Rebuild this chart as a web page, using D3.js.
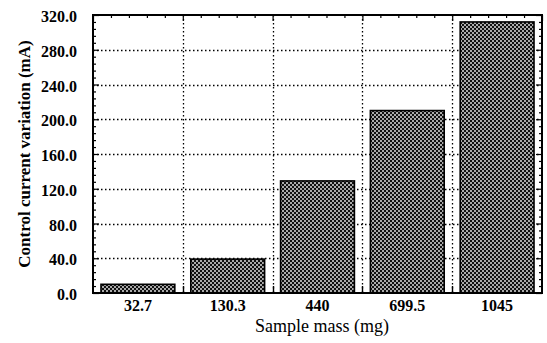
<!DOCTYPE html>
<html>
<head>
<meta charset="utf-8">
<script src="https://cdn.jsdelivr.net/npm/d3@7"></script>
<style>
  html, body { margin: 0; padding: 0; background: #fff; }
  svg { display: block; }
</style>
</head>
<body>
<svg id="chart" width="547" height="343"></svg>
<script>
// Sample masses (mg) and the resulting control current variation (mA)
const categories = ["32.7", "130.3", "440", "699.5", "1045"];
const currentVariation = [10, 39, 129, 210, 312];
const yMajorTicks = [0, 40, 80, 120, 160, 200, 240, 280, 320];
const yMinorTicks = d3.range(0, 321, 8).filter(v => v % 40 !== 0);

const W = 547, H = 343;
const margin = { top: 15, right: 5, bottom: 50, left: 93 };
const x0 = margin.left, x1 = W - margin.right;
const y0 = H - margin.bottom, y1 = margin.top;

const svg = d3.select("#chart");
const serif = "'Liberation Serif', 'Times New Roman', serif";

const x = d3.scaleBand()
  .domain(categories)
  .range([x0, x1])
  .paddingInner(0.178)
  .paddingOuter(0.089);

const y = d3.scaleLinear().domain([0, 320]).range([y0, y1]);

// cross-hatch fill for the bars: dark ground with small light diamonds
const defs = svg.append("defs");
const pat = defs.append("pattern")
  .attr("id", "crosshatch")
  .attr("patternUnits", "userSpaceOnUse")
  .attr("width", 4).attr("height", 4);
pat.append("rect").attr("width", 4).attr("height", 4).attr("fill", "#111");
pat.selectAll("rect.hole")
  .data([[0.2, 0.2], [2.2, 2.2]])
  .join("rect").attr("class", "hole")
  .attr("x", d => d[0]).attr("y", d => d[1])
  .attr("width", 1.6).attr("height", 1.6)
  .attr("fill", "#fff");

// dotted grid, snapped to the pixel grid so the dots stay dark
const crisp = v => Math.round(v) + 0.5;
const step = x.step();
const bounds = d3.range(1, categories.length).map(i => x0 + i * step);
const grid = svg.append("g")
  .attr("stroke", "#000").attr("stroke-width", 1.3)
  .attr("stroke-dasharray", "1.5,2.5");
grid.selectAll("line.h")
  .data(yMajorTicks.filter(v => v > 0 && v < 320))
  .join("line").attr("class", "h")
  .attr("x1", x0).attr("x2", x1)
  .attr("y1", d => crisp(y(d))).attr("y2", d => crisp(y(d)));
grid.selectAll("line.v")
  .data(bounds)
  .join("line").attr("class", "v")
  .attr("x1", d => crisp(d)).attr("x2", d => crisp(d))
  .attr("y1", y1).attr("y2", y0);

// bars
svg.append("g").selectAll("rect")
  .data(categories.map((c, i) => ({ c, v: currentVariation[i] })))
  .join("rect")
  .attr("x", d => x(d.c))
  .attr("width", x.bandwidth())
  .attr("y", d => y(d.v))
  .attr("height", d => y(0) - y(d.v))
  .attr("fill", "url(#crosshatch)")
  .attr("stroke", "#000")
  .attr("stroke-width", 1.6);

function styleTicks(g) {
  g.selectAll(".domain").remove();
  g.selectAll("line").attr("stroke", "#000").attr("stroke-width", 1.2);
}

// left axis: labels with inward ticks
const leftMajor = svg.append("g").attr("transform", `translate(${x0},0)`)
  .call(d3.axisLeft(y).tickValues(yMajorTicks).tickSize(-6).tickPadding(16)
    .tickFormat(d3.format(".1f")))
  .call(styleTicks);
leftMajor.selectAll("text")
  .attr("font-family", serif).attr("font-size", 16).attr("font-weight", "bold")
  .attr("fill", "#000").attr("dy", "0.42em");
svg.append("g").attr("transform", `translate(${x0},0)`)
  .call(d3.axisLeft(y).tickValues(yMinorTicks).tickSize(-3).tickFormat(""))
  .call(styleTicks);

// right axis: inward ticks only
svg.append("g").attr("transform", `translate(${x1},0)`)
  .call(d3.axisRight(y).tickValues(yMajorTicks).tickSize(-6).tickFormat(""))
  .call(styleTicks);
svg.append("g").attr("transform", `translate(${x1},0)`)
  .call(d3.axisRight(y).tickValues(yMinorTicks).tickSize(-3).tickFormat(""))
  .call(styleTicks);

// top edge ticks
const xTop = d3.scaleLinear().domain([0, 25]).range([x0, x1]);
svg.append("g").attr("transform", `translate(0,${y1})`)
  .call(d3.axisTop(xTop).tickValues(d3.range(0, 26).filter(v => v % 5 !== 0))
    .tickSize(-3).tickFormat(""))
  .call(styleTicks);
svg.append("g").attr("transform", `translate(0,${y1})`)
  .call(d3.axisTop(xTop).tickValues(d3.range(0, 26, 5)).tickSize(-6).tickFormat(""))
  .call(styleTicks);

// bottom axis: category labels, boundary ticks
const bottomAxis = svg.append("g").attr("transform", `translate(0,${y0})`)
  .call(d3.axisBottom(x).tickSize(0).tickPadding(7));
bottomAxis.selectAll(".domain").remove();
bottomAxis.selectAll("text")
  .attr("font-family", serif).attr("font-size", 16).attr("font-weight", "bold")
  .attr("fill", "#000");
bottomAxis.selectAll("line.bt")
  .data(bounds)
  .join("line").attr("class", "bt")
  .attr("x1", d => crisp(d)).attr("x2", d => crisp(d))
  .attr("y1", 0).attr("y2", -7)
  .attr("stroke", "#000").attr("stroke-width", 1.4);

// frame
svg.append("rect")
  .attr("x", x0).attr("y", y1)
  .attr("width", x1 - x0).attr("height", y0 - y1)
  .attr("fill", "none").attr("stroke", "#000").attr("stroke-width", 2);

// axis titles
svg.append("text")
  .attr("x", 322).attr("y", 332)
  .attr("text-anchor", "middle")
  .attr("font-family", serif).attr("font-size", 18)
  .text("Sample mass (mg)");

svg.append("text")
  .attr("transform", `translate(30,${(y0 + y1) / 2}) rotate(-90)`)
  .attr("text-anchor", "middle")
  .attr("font-family", serif).attr("font-size", 17).attr("font-weight", "bold")
  .text("Control current variation (mA)");
</script>
</body>
</html>
